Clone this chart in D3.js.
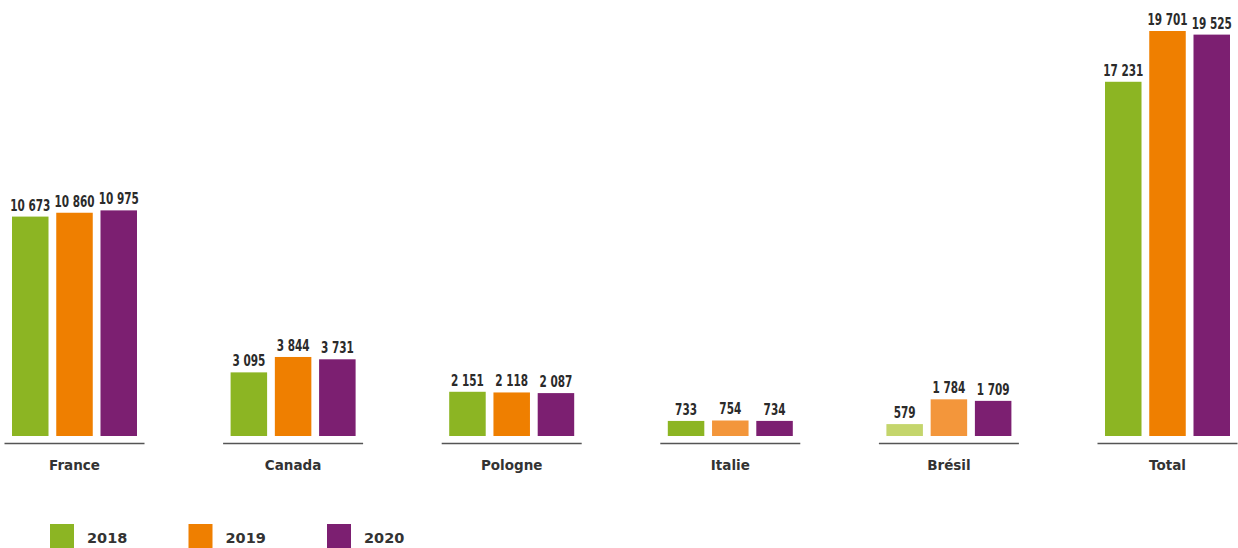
<!DOCTYPE html>
<html><head><meta charset="utf-8">
<script src="https://cdn.jsdelivr.net/npm/d3@7"></script>
<style>
body{margin:0;background:#fff;}
svg{display:block;}
</style></head>
<body>
<svg id="chart" width="1238" height="548"></svg>
<script>
const categories = ["France","Canada","Pologne","Italie","Brésil","Total"];
const years = ["2018","2019","2020"];
const values2018 = [10673, 3095, 2151, 733, 579, 17231];
const values2019 = [10860, 3844, 2118, 754, 1784, 19701];
const values2020 = [10975, 3731, 2087, 734, 1709, 19525];
const colors = ["#8cb523","#ef7f00","#7c1f71"];
const lightColors = ["#c4d56c","#f3963b","#7c1f71"];
// bars drawn with a lighter tint in the reference: [category, year]
const lightBars = [["Italie","2019"],["Brésil","2018"],["Brésil","2019"]];

const series = [values2018, values2019, values2020];
const svg = d3.select("#chart");
const fmt = d3.formatLocale({decimal:",", thousands:" ", grouping:[3], currency:["","€"]}).format(",d");

const x = d3.scalePoint().domain(categories).range([74.5, 1167.5]);
const xi = d3.scaleBand().domain(years).range([-62.5, 62.5]).paddingInner(0.175);
const y = d3.scaleLinear().domain([0, 19701]).range([436, 31]);

const isLight = (c, yr) => lightBars.some(d => d[0] === c && d[1] === yr);

const rows = [];
categories.forEach((c, i) => years.forEach((yr, j) => rows.push({c, yr, j, v: series[j][i]})));

const g = svg.append("g");
g.selectAll("rect.bar").data(rows).join("rect")
  .attr("class","bar")
  .attr("x", d => x(d.c) + xi(d.yr))
  .attr("width", xi.bandwidth())
  .attr("y", d => y(d.v))
  .attr("height", d => y(0) - y(d.v))
  .attr("fill", d => isLight(d.c, d.yr) ? lightColors[d.j] : colors[d.j]);

g.selectAll("text.val").data(rows).join("text")
  .attr("class","val")
  .attr("transform", d => `translate(${x(d.c) + xi(d.yr) + xi.bandwidth()/2},${y(d.v) - 6}) scale(0.7,1)`)
  .attr("text-anchor","middle")
  .attr("font-family","'DejaVu Sans',sans-serif")
  .attr("font-weight","bold")
  .attr("font-size", 15)
  .attr("fill","#2b2b2b")
  .text(d => fmt(d.v));

g.selectAll("line.under").data(categories).join("line")
  .attr("class","under")
  .attr("x1", d => x(d) - 70).attr("x2", d => x(d) + 70)
  .attr("y1", 443.5).attr("y2", 443.5)
  .attr("stroke","#555").attr("stroke-width",1.3);

g.selectAll("text.cat").data(categories).join("text")
  .attr("class","cat")
  .attr("x", d => x(d)).attr("y", 470)
  .attr("text-anchor","middle")
  .attr("font-family","'DejaVu Sans',sans-serif")
  .attr("font-weight","bold")
  .attr("font-size", 13.5)
  .attr("fill","#333")
  .text(d => d);

const lx = d3.scalePoint().domain(years).range([50, 327]);
const lg = svg.append("g").selectAll("g").data(years).join("g")
  .attr("transform", d => `translate(${lx(d)},524)`);
lg.append("rect").attr("width",24).attr("height",24)
  .attr("fill", (d,i) => colors[i]);
lg.append("text").attr("x", 37).attr("y", 18.5)
  .attr("font-family","'DejaVu Sans',sans-serif")
  .attr("font-weight","bold").attr("font-size",14.5)
  .attr("fill","#333").text(d => d);
</script>
</body></html>
